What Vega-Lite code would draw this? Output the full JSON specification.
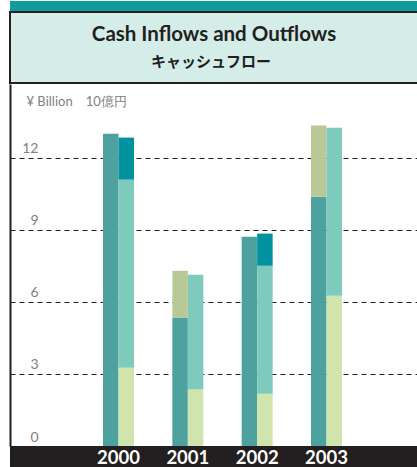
{
  "$schema": "https://vega.github.io/schema/vega-lite/v6.json",
  "padding": {"left": 9, "top": 0, "right": 0, "bottom": 0},
  "background": "white",
  "spacing": 0,
  "config": {"view": {"stroke": null}, "concat": {"spacing": 0}},
  "vconcat": [
    {
      "width": 408,
      "height": 10,
      "view": {"fill": "#0f9a9c", "stroke": null},
      "data": {"values": [{"t": ""}]},
      "mark": {"type": "text"},
      "encoding": {"text": {"field": "t"}}
    },
    {
      "width": 408,
      "height": 71,
      "view": {"fill": "#d4ede8", "stroke": "#231f20", "strokeWidth": 2},
      "layer": [
        {
          "data": {"values": [{"line": "en", "label": "Cash Inflows and Outflows"}]},
          "mark": {"type": "text", "font": "Lato", "fontSize": 20.5, "fontWeight": "bold", "color": "#231f20", "baseline": "middle", "dy": 1},
          "encoding": {
            "y": {"field": "line", "type": "nominal", "axis": null, "scale": {"type": "point", "domain": ["en", "ja"], "padding": 0.86}},
            "text": {"field": "label"}
          }
        },
        {
          "data": {"values": [{"line": "ja", "label": "キャッシュフロー"}]},
          "mark": {"type": "text", "font": "Noto Sans CJK JP", "fontSize": 15, "fontWeight": "bold", "color": "#231f20", "baseline": "middle", "dy": 1, "dx": -3},
          "encoding": {
            "y": {"field": "line", "type": "nominal", "axis": null},
            "text": {"field": "label"}
          }
        }
      ]
    },
    {
      "width": 408,
      "height": 362,
      "data": {
        "values": [
          {"year": "2000", "side": "inflow", "segment": "Cash from operations", "value": 13.01},
          {"year": "2000", "side": "outflow", "segment": "Capital investment", "value": 3.26},
          {"year": "2000", "side": "outflow", "segment": "Debt repayment", "value": 7.84},
          {"year": "2000", "side": "outflow", "segment": "Increase in cash", "value": 1.75},
          {"year": "2001", "side": "inflow", "segment": "Cash from operations", "value": 5.35},
          {"year": "2001", "side": "inflow", "segment": "Decrease in cash", "value": 1.95},
          {"year": "2001", "side": "outflow", "segment": "Capital investment", "value": 2.35},
          {"year": "2001", "side": "outflow", "segment": "Debt repayment", "value": 4.79},
          {"year": "2002", "side": "inflow", "segment": "Cash from operations", "value": 8.72},
          {"year": "2002", "side": "outflow", "segment": "Capital investment", "value": 2.18},
          {"year": "2002", "side": "outflow", "segment": "Debt repayment", "value": 5.33},
          {"year": "2002", "side": "outflow", "segment": "Increase in cash", "value": 1.34},
          {"year": "2003", "side": "inflow", "segment": "Cash from operations", "value": 10.39},
          {"year": "2003", "side": "inflow", "segment": "Decrease in cash", "value": 2.96},
          {"year": "2003", "side": "outflow", "segment": "Capital investment", "value": 6.26},
          {"year": "2003", "side": "outflow", "segment": "Debt repayment", "value": 7.0}
        ]
      },
      "transform": [
        {"stack": "value", "groupby": ["year", "side"], "sort": [{"field": "segment", "order": "ascending"}], "as": ["v0", "v1"]}
      ],
      "mark": {"type": "bar"},
      "encoding": {
        "x": {
          "field": "year",
          "type": "ordinal",
          "scale": {"paddingInner": 0.115, "paddingOuter": 1, "align": 0.5613},
          "axis": null
        },
        "xOffset": {"field": "side", "type": "nominal", "scale": {"domain": ["inflow", "outflow"], "paddingInner": 0, "paddingOuter": 0.98}},
        "y": {
          "field": "v0",
          "type": "quantitative",
          "scale": {"domain": [0, 15.083], "nice": false, "zero": true},
          "axis": {
            "orient": "left",
            "values": [0, 3, 6, 9, 12],
            "domain": true,
            "domainColor": "#231f20",
            "domainWidth": 2,
            "ticks": false,
            "tickSize": 0,
            "grid": true,
            "gridColor": "#231f20",
            "gridDash": [5, 4],
            "gridWidth": 1,
            "gridOpacity": {"condition": {"test": "datum.value === 0", "value": 0}, "value": 1},
            "labelAlign": "right",
            "labelPadding": -28,
            "labelBaseline": "alphabetic",
            "labelOffset": -5,
            "labelFont": "Lato",
            "labelFontSize": 14,
            "labelColor": "#808080",
            "labelFlush": false,
            "labelOverlap": false,
            "title": "¥ Billion　10億円",
            "titleAngle": 0,
            "titleAlign": "left",
            "titleBaseline": "alphabetic",
            "titleX": 16,
            "titleY": 21,
            "titleFont": "Lato",
            "titleFontSize": 13,
            "titleFontWeight": "normal",
            "titleColor": "#808080"
          }
        },
        "y2": {"field": "v1"},
        "color": {
          "field": "segment",
          "type": "nominal",
          "legend": null,
          "scale": {
            "domain": ["Cash from operations", "Decrease in cash", "Capital investment", "Debt repayment", "Increase in cash"],
            "range": ["#4da19f", "#b8c896", "#d0e5ae", "#7ecbbd", "#00929e"]
          }
        }
      }
    },
    {
      "width": 408,
      "height": 22,
      "view": {"fill": "#231f20", "stroke": null},
      "data": {"values": [{"year": "2000"}, {"year": "2001"}, {"year": "2002"}, {"year": "2003"}]},
      "mark": {"type": "text", "font": "Lato", "fontSize": 18.5, "fontWeight": "bold", "color": "#ffffff", "baseline": "middle", "dy": 1, "letterSpacing": 1},
      "encoding": {
        "x": {
          "field": "year",
          "type": "ordinal",
          "scale": {"type": "band", "paddingInner": 0.115, "paddingOuter": 1, "align": 0.5613},
          "axis": null
        },
        "text": {"field": "year"}
      }
    }
  ]
}
